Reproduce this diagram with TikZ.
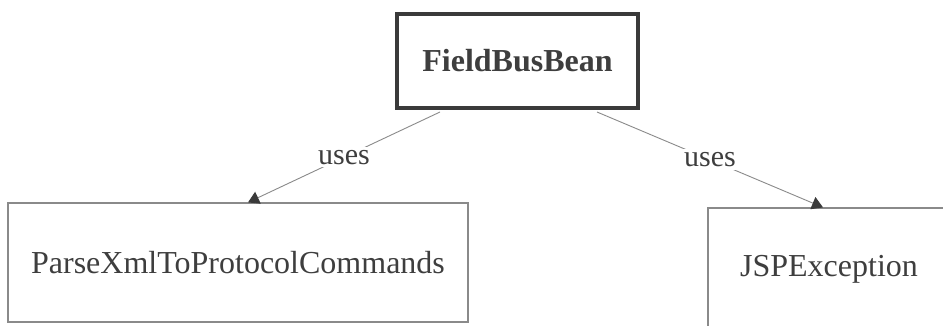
\documentclass[tikz,border=0pt]{standalone}
\usepackage{fontspec}
\setmainfont{Liberation Serif}
\usetikzlibrary{arrows.meta}
\definecolor{inkgray}{HTML}{3E3E3E}
\definecolor{linegray}{HTML}{8A8A8A}
\definecolor{framegray}{HTML}{3A3A3A}
\tikzset{
  classbox/.style={draw=linegray, line width=1.2pt, fill=white, text=inkgray,
    font=\fontsize{32}{36}\selectfont, inner sep=0pt},
  mainbox/.style={draw=framegray, line width=4pt, fill=white, text=inkgray,
    font=\bfseries\fontsize{32}{36}\selectfont, inner sep=0pt},
  uses/.style={draw=linegray, line width=0.9pt,
    -{Triangle[length=11pt,width=13pt,color=framegray,fill=framegray]}},
  edgelabel/.style={fill=white, text=inkgray, font=\fontsize{30}{34}\selectfont,
    inner sep=3pt}
}
\begin{document}
\begin{tikzpicture}[x=1pt,y=-1pt]
  \clip (0,0) rectangle (943,326);
  \fill[white] (0,0) rectangle (943,326);

  % classes
  \node[mainbox, minimum width=241pt, minimum height=94pt] (fb) at (517.5,61) {FieldBusBean};
  \node[classbox, minimum width=460pt, minimum height=119pt] (parse) at (238,262.5) {ParseXmlToProtocolCommands};
  \node[classbox, minimum width=242pt, minimum height=122pt] (jsp) at (829,269) {JSPException};

  % dependencies
  \draw[uses] ([xshift=-77.5pt,yshift=-2pt]fb.south) -- node[edgelabel] {uses} ([xshift=10pt]parse.north);
  \draw[uses] ([xshift=79.5pt,yshift=-2pt]fb.south) -- node[edgelabel] {uses} ([xshift=-6pt]jsp.north);
\end{tikzpicture}
\end{document}
